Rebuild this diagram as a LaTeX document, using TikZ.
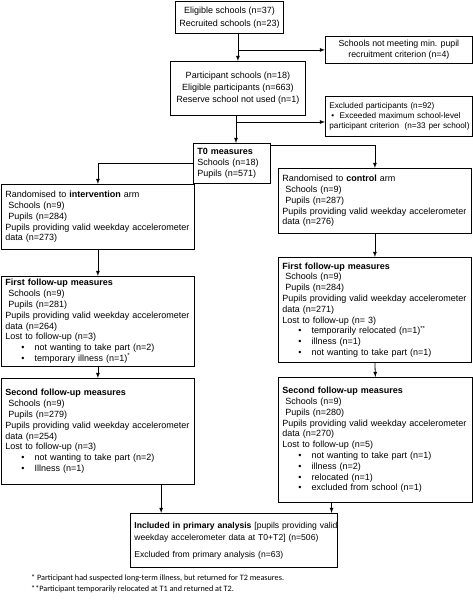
\documentclass[tikz,border=0pt]{standalone}
\usepackage{fontspec}
\setmainfont{Liberation Sans}
\newfontfamily\notefont{Carlito}
\usetikzlibrary{arrows.meta,calc}
\newcommand{\bul}[1]{\hspace*{16pt}\textbullet\hspace{10pt}#1}
\newcommand{\ind}{\hspace*{3pt}}

\begin{document}
\begin{tikzpicture}[x=1pt,y=-1pt,
    box/.style={draw,line width=0.8pt,anchor=north west,inner xsep=4pt,inner ysep=2pt,
      align=left,font=\fontsize{9}{10.8}\selectfont},
    cbox/.style={box,align=center},
    arr/.style={-latex,line width=0.8pt}]
    \useasboundingbox (0,0) rectangle (473,603);
    % top of the chart
    \node[cbox,minimum width=96pt,minimum height=32pt,font=\fontsize{9}{13}\selectfont] (elig) at (175,1)
      {Eligible schools (n=37)\\Recruited schools (n=23)};
    \node[cbox,minimum width=147pt,minimum height=27pt,font=\fontsize{8.8}{11.5}\selectfont] (notmeet) at (325,36)
      {Schools not meeting min. pupil\\recruitment criterion (n=4)};
    \node[cbox,minimum width=135pt,minimum height=54pt,font=\fontsize{9}{12}\selectfont] (part) at (170,61)
      {Participant schools (n=18)\\Eligible participants (n=663)\\Reserve school not used (n=1)};
    \node[box,text width=139pt,minimum height=40pt,font=\fontsize{8.2}{10}\selectfont] (excl) at (325,96)
      {Excluded participants (n=92)\\\hspace*{2pt}\textbullet\ \ Exceeded maximum school-level\\
       \mbox{participant criterion~~(n=33 per school)}};
    \node[box,text width=69pt,minimum height=40pt] (tzero) at (193,143)
      {\textbf{T0 measures}\\Schools (n=18)\\Pupils (n=571)};
    % the two arms
    \node[box,text width=185pt,minimum height=65pt] (inter) at (1,184)
      {Randomised to \textbf{intervention} arm\\\ind Schools (n=9)\\\ind Pupils (n=284)\\
       Pupils providing valid weekday accelerometer\\data (n=273)};
    \node[box,text width=185pt,minimum height=65pt] (contr) at (278,168)
      {Randomised to \textbf{control} arm\\\ind Schools (n=9)\\\ind Pupils (n=287)\\
       Pupils providing valid weekday accelerometer\\data (n=276)};
    \node[box,text width=185pt,minimum height=90pt] (firstL) at (1,276)
      {\textbf{First follow-up measures}\\\ind Schools (n=9)\\\ind Pupils (n=281)\\
       Pupils providing valid weekday accelerometer\\data (n=264)\\Lost to follow-up (n=3)\\
       \bul{not wanting to take part (n=2)}\\\bul{temporary illness (n=1)\textsuperscript{*}}};
    \node[box,text width=185pt,minimum height=105pt] (firstR) at (278,257)
      {\textbf{First follow-up measures}\\\ind Schools (n=9)\\\ind Pupils (n=284)\\
       Pupils providing valid weekday accelerometer\\data (n=271)\\Lost to follow-up (n= 3)\\
       \bul{temporarily relocated (n=1)\textsuperscript{**}}\\\bul{illness (n=1)}\\
       \bul{not wanting to take part (n=1)}};
    \node[box,text width=185pt,minimum height=106pt] (secL) at (1,378)
      {\textbf{Second follow-up measures}\\\ind Schools (n=9)\\\ind Pupils (n=279)\\
       Pupils providing valid weekday accelerometer\\data (n=254)\\Lost to follow-up (n=3)\\
       \bul{not wanting to take part (n=2)}\\\bul{Illness (n=1)}};
    \node[box,text width=186pt,minimum height=125pt] (secR) at (278,377)
      {\textbf{Second follow-up measures}\\\ind Schools (n=9)\\\ind Pupils (n=280)\\
       Pupils providing valid weekday accelerometer\\data (n=270)\\Lost to follow-up (n=5)\\
       \bul{not wanting to take part (n=1)}\\\bul{illness (n=2)}\\\bul{relocated (n=1)}\\
       \bul{excluded from school (n=1)}};
    \node[box,text width=199pt,minimum height=54pt,font=\fontsize{8.6}{12}\selectfont] (prim) at (130,513)
      {\mbox{\textbf{Included in primary analysis} [pupils providing valid}\\
       weekday accelerometer data at T0+T2] (n=506)\\[5pt]Excluded from primary analysis (n=63)};
    % footnotes
    \node[anchor=west,inner sep=0pt,font=\notefont\fontsize{8.2}{9}\selectfont] (noteA) at (31,578)
      {* Participant had suspected long-term illness, but returned for T2 measures.};
    \node[anchor=west,inner sep=0pt,font=\notefont\fontsize{8.2}{9}\selectfont] (noteB) at (31,589)
      {**Participant temporarily relocated at T1 and returned at T2.};
    % connectors
    \draw[arr] (part.north |- elig.south) -- (part.north);
    \draw[arr] (part.north |- notmeet.west) -- (notmeet.west);
    \coordinate (exj) at (236,122);
    \draw[arr] (exj |- part.south) -- (exj |- tzero.north);
    \draw[arr] (exj) -- (exj -| excl.west);
    \draw[arr] ($(tzero.north east)+(0,2)$) -| (contr.north);
    \draw[arr] (tzero.west) -| (inter.north);
    \draw[arr] (inter.south) -- (firstL.north);
    \draw[arr] (contr.south) -- (firstR.north);
    \draw[arr] (firstL.south) -- (secL.north);
    \draw[arr] (firstR.south) -- (secR.north);
    \coordinate (inL) at ($(prim.north west)!0.15!(prim.north east)$);
    \coordinate (inR) at ($(prim.north west)!0.97!(prim.north east)$);
    \draw[arr] (inL |- secL.south) -- (inL);
    \draw[arr] (inR |- secR.south) -- (inR);
  \end{tikzpicture}
\end{document}
